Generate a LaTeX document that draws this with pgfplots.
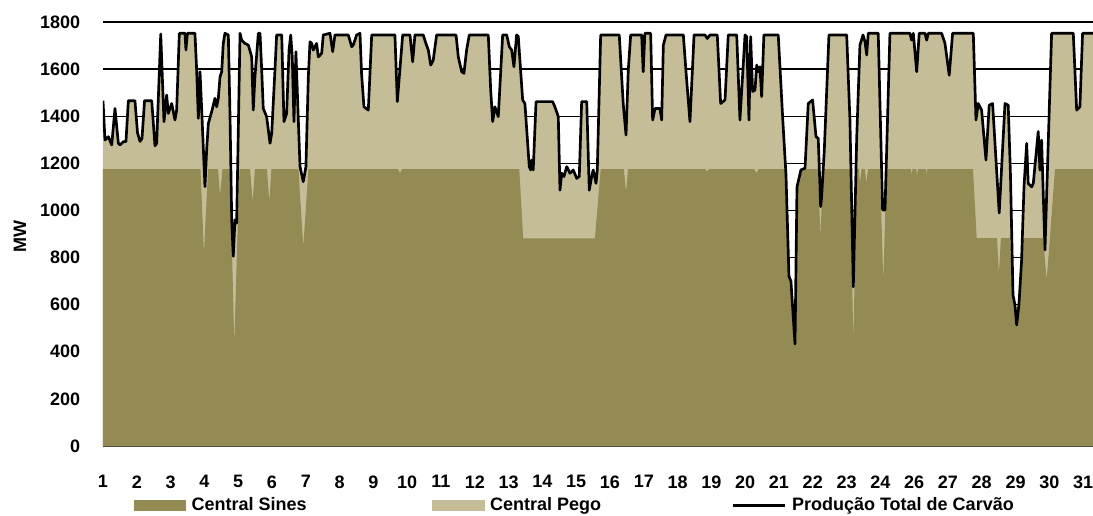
\documentclass[border=0pt]{standalone}
\usepackage{fontspec}
\setmainfont{Liberation Sans}
\usepackage{pgfplots}
\usepackage{pgfplotstable}
\pgfplotsset{compat=1.18}
\definecolor{sines}{RGB}{148,138,84}
\definecolor{pego}{RGB}{196,189,151}

% Produção total (MW), x em horas desde o início do dia 1
\pgfplotstableread{
h mw
0 1466
1.4 1299
3.8 1313
6.2 1278
8.5 1433
10.9 1285
12.1 1278
14.4 1292
16.3 1292
18.0 1466
22.7 1466
24.5 1330
26.3 1293
27.7 1306
29.5 1466
34.6 1466
36.9 1274
38.1 1285
41.0 1749
43.3 1377
45.2 1490
46.4 1412
48.8 1454
51.1 1384
52.3 1426
54.2 1752
58.2 1752
58.9 1681
59.9 1752
65.3 1752
66.5 1596
67.7 1391
68.9 1589
70.1 1426
72.4 1101
73.6 1256
74.8 1369
77.2 1420
79.5 1476
80.7 1440
81.9 1476
83.1 1567
84.3 1589
85.4 1709
86.6 1752
89.0 1745
90.2 1400
91.4 960
92.5 805
93.7 960
94.9 946
97.3 1752
98.5 1723
100.8 1709
103.2 1702
105.6 1652
106.7 1426
107.9 1567
110.3 1752
111.5 1752
112.7 1596
113.8 1433
116.2 1398
118.6 1285
119.8 1327
122.1 1596
123.3 1745
126.9 1745
128.5 1377
130.4 1412
132.1 1681
133.3 1745
134.4 1652
135.6 1377
137.0 1674
138.7 1384
139.9 1186
142.2 1122
144.1 1186
145.8 1567
147.0 1716
148.2 1709
149.3 1681
151.7 1709
152.9 1652
155.3 1667
156.4 1745
161.2 1752
163.1 1674
164.7 1745
174.2 1745
176.6 1695
177.7 1702
180.1 1745
182.5 1752
183.6 1582
185.3 1440
188.4 1426
190.8 1745
207.3 1745
209.0 1462
212.8 1745
218.0 1745
219.9 1631
221.5 1745
227.4 1745
229.3 1709
231.0 1681
232.7 1617
234.5 1638
236.9 1745
250.7 1745
252.3 1652
254.7 1589
256.3 1582
258.2 1681
260.1 1745
273.6 1745
275.3 1511
276.7 1377
278.3 1440
280.7 1398
283.8 1745
286.7 1745
288.5 1695
290.2 1681
291.8 1610
293.7 1745
294.9 1738
298.0 1469
299.6 1454
302.7 1186
303.7 1172
304.4 1214
305.5 1172
307.5 1462
319.3 1462
320.9 1440
323.3 1398
324.5 1086
325.7 1158
327.3 1144
329.3 1186
331.6 1158
333.9 1172
336.4 1136
338.2 1144
339.9 1462
343.5 1462
345.3 1086
347.0 1144
348.1 1172
350.1 1115
351.0 1172
353.4 1745
366.6 1745
369.4 1454
371.4 1320
373.0 1596
374.7 1745
382.5 1745
383.6 1589
384.8 1752
388.9 1752
390.3 1384
392.0 1433
395.5 1433
396.7 1384
397.9 1702
399.8 1745
412.1 1745
414.0 1589
416.8 1377
419.7 1745
427.5 1745
429.1 1730
431.0 1745
436.2 1745
438.6 1454
441.7 1469
444.0 1745
450.0 1745
452.3 1384
455.9 1745
457.1 1738
458.7 1384
459.9 1738
461.3 1505
463.0 1511
464.2 1617
465.3 1589
466.5 1610
467.7 1483
469.3 1745
479.5 1745
482.6 1398
485.0 1150
487.1 720
488.5 700
491.4 433
492.8 1100
495.6 1172
498.5 1179
500.8 1454
503.9 1469
506.3 1313
507.9 1306
509.6 1016
510.3 1058
512.2 1256
515.5 1745
528.1 1745
530.4 1384
532.8 676
535.2 1306
537.5 1702
539.7 1745
541.1 1716
542.3 1660
543.4 1752
550.5 1752
553.6 1002
555.3 1002
558.8 1752
573.0 1752
574.2 1723
575.4 1752
577.8 1589
579.6 1752
583.7 1752
584.9 1723
586.0 1752
595.5 1752
597.9 1709
600.9 1574
603.3 1752
618.0 1752
619.9 1384
621.5 1454
623.9 1426
627.0 1214
629.3 1447
631.7 1454
636.4 989
640.5 1454
642.8 1447
644.4 1150
646.2 640
647.6 598
648.8 514
650.4 600
652.3 789
654.0 1100
655.9 1285
657.0 1115
659.4 1100
660.6 1115
664.1 1335
665.3 1171
666.5 1299
668.9 832
673.6 1752
689.0 1752
691.4 1426
693.7 1440
695.6 1752
703.0 1752
}\total

% Central Sines (MW)
\pgfplotstableread{
h mw
0 1175
69.2 1175
71.7 819
74.6 1175
81.7 1175
83.1 1065
84.9 1175
90.2 1175
93.2 433
96.9 1175
104.4 1175
106.3 1037
107.9 1175
116.4 1175
118.1 1037
119.6 1175
138.8 1175
142.2 846
145.9 1175
209.5 1175
210.9 1158
212.3 1175
295.6 1175
298.4 881
349.3 881
353.4 1175
369.9 1175
371.4 1079
372.8 1175
427.8 1175
429.1 1165
430.3 1175
462.6 1175
464.0 1158
465.4 1175
484.8 1175
485.0 1150
487.1 720
488.5 700
491.4 433
492.8 1100
495.6 1172
497.0 1175
507.7 1175
509.5 883
511.2 1175
530.4 1175
532.8 443
535.4 1175
536.8 1175
537.5 1116
538.6 1175
541.1 1175
542.1 1116
543.2 1175
551.7 1175
554.1 698
556.3 1175
573.7 1175
574.2 1151
574.8 1175
577.6 1175
578.0 1144
578.7 1175
584.4 1175
584.9 1151
585.4 1175
617.8 1175
620.4 883
634.8 883
636.2 734
637.6 883
644.0 883
646.2 640
647.6 598
648.8 514
650.4 600
652.3 789
653.6 883
667.5 883
670.1 705
672.4 883
676.0 1175
703.0 1175
}\sines

\begin{document}
\begin{tikzpicture}
\begin{axis}[
  set layers,
  scale only axis,
  width=742.5pt, height=318pt,
  at={(0,0)}, anchor=south west,
  xmin=0, xmax=703, ymin=0, ymax=1800,
  enlargelimits=false,
  axis x line*=bottom,
  axis y line*=left,
  y axis line style={draw=none},
  x axis line style={black!80, line width=1pt},
  xtick={0,24,...,696},
  xticklabels={1,2,3,4,5,6,7,8,9,10,11,12,13,14,15,16,17,18,19,20,21,22,23,24,26,27,28,29,30,31},
  ytick={0,200,...,1800},
  ymajorgrids,
  major grid style={black, line width=1pt},
  tick style={draw=none},
  /pgf/number format/assume math mode=true,
  /pgf/number format/1000 sep={},
  every tick label/.append style={font=\bfseries\fontsize{13.5}{16}\selectfont},
  yticklabel style={inner sep=0pt, anchor=east, xshift=-17pt},
  xticklabel style={inner sep=0pt, anchor=north, yshift=-22pt},
  ylabel={MW},
  ylabel style={font=\bfseries\fontsize{13.5}{16}\selectfont, at={(axis description cs:-0.0838,0.495)}, anchor=center},
  legend columns=3,
  legend style={draw=none, fill=none, inner sep=0pt, outer sep=0pt,
    at={(axis description cs:0,0)}, anchor=west, xshift=23.5pt, yshift=-44.5pt,
    font=\bfseries\fontsize{13.5}{16}\selectfont,
    nodes={inner sep=0pt},
    /tikz/every odd column/.append style={column sep=4.5pt}},
]
\addplot[fill=pego, draw=none, forget plot] table[x=h, y=mw]{\total} \closedcycle;
\addplot[fill=sines, draw=none, forget plot] table[x=h, y=mw]{\sines} \closedcycle;
\addplot[black, line width=2pt, line join=round, forget plot] table[x=h, y=mw]{\total};

\addlegendimage{legend image code/.code={\fill[sines] (0pt,-3.6pt) rectangle (38pt,3.6pt);}}
\addlegendentry{\makebox[180pt][l]{Central Sines}}
\addlegendimage{legend image code/.code={\fill[pego] (0pt,-3.6pt) rectangle (39pt,3.6pt);}}
\addlegendentry{\makebox[181pt][l]{Central Pego}}
\addlegendimage{legend image code/.code={\draw[black, line width=2pt] (0pt,0pt) -- (39pt,0pt);}}
\addlegendentry{Produção Total de Carvão}
\end{axis}
\pgfresetboundingbox
\path[use as bounding box] (-77.25pt,-51.75pt) rectangle (742.5pt,334.5pt);
\end{tikzpicture}
\end{document}
